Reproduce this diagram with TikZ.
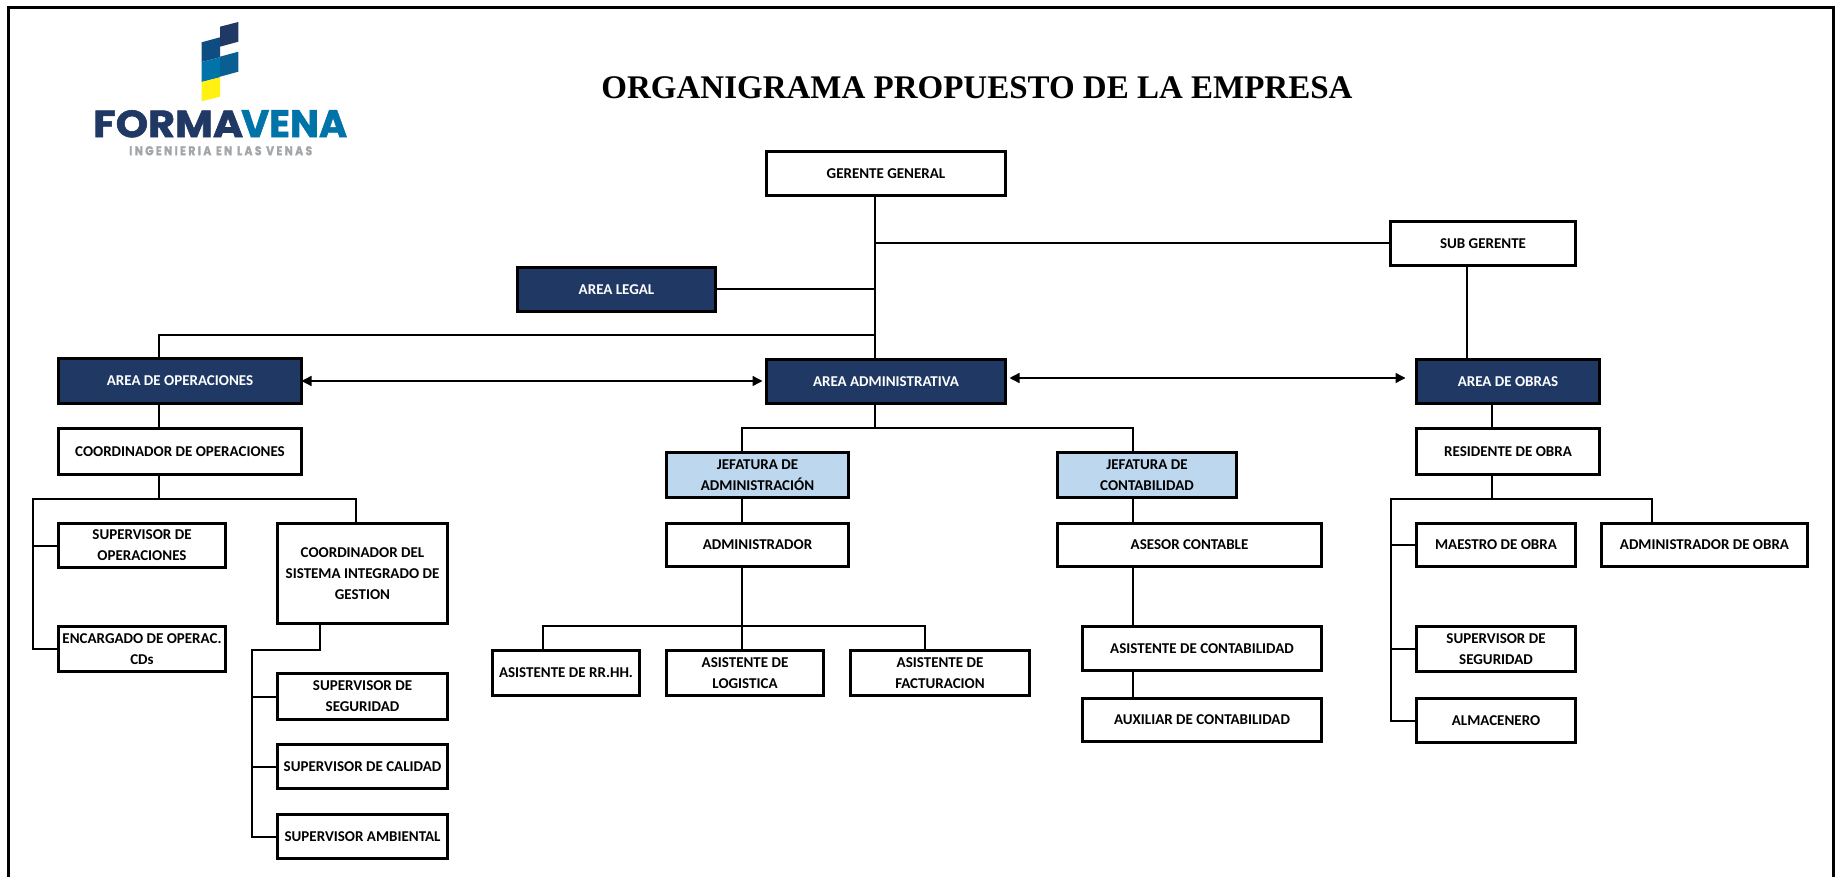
\documentclass[tikz,border=0pt]{standalone}
\usepackage{fontspec}
\usepackage{graphicx}
\setmainfont{Carlito}
\newfontfamily\titlefont{Liberation Serif}
\newfontfamily\logofont[BoldFeatures={FakeBold=1.5}]{Poppins}
\usetikzlibrary{positioning}
\usetikzlibrary{arrows.meta}
\definecolor{navyBox}{HTML}{1F3864}
\definecolor{skyBox}{HTML}{BDD7EE}
\definecolor{logoTeal}{HTML}{0073A8}
\definecolor{logoBlue}{HTML}{0F4C81}
\definecolor{logoMid}{HTML}{0A5F92}
\definecolor{logoYellow}{HTML}{FFF212}
\definecolor{logoGray}{HTML}{A3A6A9}
\tikzset{
    whitebox/.style={rectangle, draw, line width=3.6pt, outer sep=0pt, inner sep=1pt, align=center, text=black,
        font=\bfseries\fontsize{15}{21}\selectfont},
    navybox/.style={whitebox, fill=navyBox, text=white},
    skybox/.style={whitebox, fill=skyBox},
    link/.style={line width=2pt},
    twoway/.style={line width=1.4pt, {Triangle[length=10pt,width=10pt]}-{Triangle[length=10pt,width=10pt]}}
}

\begin{document}
\begin{tikzpicture}[x=1pt, y=-1pt]
    \useasboundingbox (0,0) rectangle (1842,877);
    % Page frame, open at the bottom
    \draw[line width=3pt] (8,877) -- (8,8) -- (1833,8) -- (1833,877);
    % Logo
    \fill[navyBox] (220,26.7) -- (238.3,22) -- (238.3,41.7) -- (220,46.7) -- cycle;
    \fill[logoBlue] (201.7,42.3) -- (220,37.3) -- (220,57.3) -- (201.7,62) -- cycle;
    \fill[logoTeal] (201.7,62) -- (220,57.3) -- (220,77.3) -- (201.7,82) -- cycle;
    \fill[logoMid] (220,56.7) -- (238.3,51.7) -- (238.3,71.7) -- (220,76.7) -- cycle;
    \fill[logoYellow] (201.7,82) -- (220,77.3) -- (220,96.7) -- (201.7,101.3) -- cycle;
    \node[inner sep=0pt, anchor=north west, text=navyBox] (logoForma) at (93,110)
        {\resizebox{150pt}{27pt}{\logofont\bfseries FORMA}};
    \node[inner sep=0pt, anchor=north west, text=logoTeal] (logoVena) at (241,110)
        {\resizebox{106pt}{27pt}{\logofont\bfseries VENA}};
    \node[inner sep=0pt, anchor=north west, text=logoGray] (logoSlogan) at (129,146)
        {\resizebox{183pt}{9pt}{\logofont\bfseries I N G E N I E R I A\ \ E N\ \ L A S\ \ V E N A S}};
    % Title
    \node[font=\titlefont\bfseries\fontsize{33}{40}\selectfont, inner sep=0pt] (title) at (977,88) {ORGANIGRAMA PROPUESTO DE LA EMPRESA};
    % Top of the chart
    \node[whitebox, minimum width=239pt, minimum height=44pt, anchor=north west] (gerente) at (766.5,151.5) {GERENTE GENERAL};
    \node[whitebox, minimum width=185pt, minimum height=44pt, anchor=north west] (subGerente) at (1390.5,221.5) {SUB GERENTE};
    \node[navybox, minimum width=198pt, minimum height=44pt, anchor=north west] (areaLegal) at (517.5,267.5) {AREA LEGAL};
    \node[navybox, minimum width=243pt, minimum height=45pt, anchor=north west] (areaOper) at (58.5,358.5) {AREA DE OPERACIONES};
    \node[navybox, minimum width=239pt, minimum height=44pt, anchor=north west] (areaAdmin) at (766.5,359.5) {AREA ADMINISTRATIVA};
    \node[navybox, minimum width=183pt, minimum height=44pt, anchor=north west] (areaObras) at (1416.5,359.5) {AREA DE OBRAS};
    % Operaciones
    \node[whitebox, minimum width=243pt, minimum height=46pt, below=25pt of areaOper] (coordOper) {COORDINADOR DE OPERACIONES};
    \node[whitebox, minimum width=167pt, minimum height=44pt, below=49pt of coordOper.south west, anchor=north west] (supOper) {SUPERVISOR DE\\OPERACIONES};
    \node[whitebox, minimum width=167pt, minimum height=45pt, below=59pt of supOper] (encargado) {ENCARGADO DE OPERAC.\\CDs};
    \node[whitebox, minimum width=170pt, minimum height=100pt, right=52pt of supOper.north east, anchor=north west] (coordSistema) {COORDINADOR DEL\\SISTEMA INTEGRADO DE\\GESTION};
    \node[whitebox, minimum width=170pt, minimum height=46pt, below=50pt of coordSistema] (supSeguridad) {SUPERVISOR DE\\SEGURIDAD};
    \node[whitebox, minimum width=170pt, minimum height=44pt, below=25pt of supSeguridad] (supCalidad) {SUPERVISOR DE CALIDAD};
    \node[whitebox, minimum width=170pt, minimum height=44pt, below=26pt of supCalidad] (supAmbiental) {SUPERVISOR AMBIENTAL};
    % Administracion
    \node[skybox, minimum width=182pt, minimum height=45pt, anchor=north west] (jefAdmin) at (666.5,452.5) {JEFATURA DE\\ADMINISTRACIÓN};
    \node[whitebox, minimum width=182pt, minimum height=43pt, below=26pt of jefAdmin] (administrador) {ADMINISTRADOR};
    \node[whitebox, minimum width=157pt, minimum height=45pt, below=84pt of administrador.south west, anchor=north west] (asisLogistica) {ASISTENTE DE\\LOGISTICA};
    \node[whitebox, minimum width=147pt, minimum height=45pt, left=27pt of asisLogistica] (asisRRHH) {ASISTENTE DE RR.HH.};
    \node[whitebox, minimum width=179pt, minimum height=45pt, right=27pt of asisLogistica] (asisFactura) {ASISTENTE DE\\FACTURACION};
    % Contabilidad
    \node[skybox, minimum width=179pt, minimum height=45pt, anchor=north west] (jefConta) at (1057.5,452.5) {JEFATURA DE\\CONTABILIDAD};
    \node[whitebox, minimum width=264pt, minimum height=43pt, below=26pt of jefConta.south west, anchor=north west] (asesor) {ASESOR CONTABLE};
    \node[whitebox, minimum width=239pt, minimum height=44pt, below=60pt of asesor.south east, anchor=north east] (asisConta) {ASISTENTE DE CONTABILIDAD};
    \node[whitebox, minimum width=239pt, minimum height=43pt, below=28pt of asisConta] (auxConta) {AUXILIAR DE CONTABILIDAD};
    % Obras
    \node[whitebox, minimum width=183pt, minimum height=46pt, below=25pt of areaObras] (residente) {RESIDENTE DE OBRA};
    \node[whitebox, minimum width=159pt, minimum height=43pt, below=49pt of residente.south west, anchor=north west] (maestro) {MAESTRO DE OBRA};
    \node[whitebox, minimum width=206pt, minimum height=43pt, right=26pt of maestro] (adminObra) {ADMINISTRADOR DE OBRA};
    \node[whitebox, minimum width=159pt, minimum height=45pt, below=60pt of maestro] (supSegObra) {SUPERVISOR DE\\SEGURIDAD};
    \node[whitebox, minimum width=159pt, minimum height=44pt, below=27pt of supSegObra] (almacenero) {ALMACENERO};
    % Points where the lines turn
    \coordinate (topBus) at (875,335);
    \coordinate (operBus) at (159,499);
    \coordinate (operBusL) at (33,499);
    \coordinate (sistBus) at (252,650);
    \coordinate (adminBus) at (875,428);
    \coordinate (logisBus) at (742,626);
    \coordinate (obraBus) at (1492,499);
    \coordinate (obraBusL) at (1391,499);
    % Lines: top of the chart
    \draw[link] ([xshift=-11pt]gerente.south) -- ([xshift=-11pt]areaAdmin.north);
    \draw[link] (subGerente.west) -- (subGerente.west -| topBus);
    \draw[link] (areaLegal.east) -- (areaLegal.east -| topBus);
    \draw[link] ([xshift=-21pt]areaOper.north) |- (topBus);
    \draw[link] ([xshift=-16pt]subGerente.south) -- ([xshift=-41pt]areaObras.north);
    % Arrows
    \draw[twoway] (areaOper.east) -- ([xshift=-4pt]areaAdmin.west |- areaOper.east);
    \draw[twoway] ([xshift=4pt,yshift=3.5pt]areaAdmin.east) -- ([xshift=-11pt,yshift=3.5pt]areaObras.west);
    % Lines: operaciones
    \draw[link] ([xshift=-21pt]areaOper.south) -- ([xshift=-21pt]coordOper.north);
    \draw[link] ([xshift=-21pt]coordOper.south) -- (operBus);
    \draw[link] (encargado.west) -| (operBusL) -| ([xshift=-6.5pt]coordSistema.north);
    \draw[link] (supOper.west) -- (supOper.west -| operBusL);
    \draw[link] ([xshift=-42.5pt]coordSistema.south) |- (sistBus) |- (supAmbiental.west);
    \draw[link] (supSeguridad.west) -- (supSeguridad.west -| sistBus);
    \draw[link] (supCalidad.west) -- (supCalidad.west -| sistBus);
    % Lines: administracion
    \draw[link] ([xshift=-11pt]areaAdmin.south) -- (adminBus);
    \draw[link] ([xshift=-15.5pt]jefAdmin.north) |- (adminBus);
    \draw[link] ([xshift=-14pt]jefConta.north) |- (adminBus);
    \draw[link] ([xshift=-15.5pt]jefAdmin.south) -- ([xshift=-15.5pt]administrador.north);
    \draw[link] ([xshift=-15.5pt]administrador.south) -- ([xshift=-3pt]asisLogistica.north);
    \draw[link] ([xshift=-23pt]asisRRHH.north) |- (logisBus);
    \draw[link] ([xshift=-15pt]asisFactura.north) |- (logisBus);
    % Lines: contabilidad
    \draw[link] ([xshift=-14pt]jefConta.south) -- ([xshift=-14pt]asesor.north -| jefConta.south);
    \draw[link] ([xshift=-14pt]asesor.south -| jefConta.south) -- ([xshift=-69pt]asisConta.north);
    \draw[link] ([xshift=-69pt]asisConta.south) -- ([xshift=-69pt]auxConta.north);
    % Lines: obras
    \draw[link] ([xshift=-16pt]areaObras.south) -- ([xshift=-16pt]residente.north);
    \draw[link] ([xshift=-16pt]residente.south) -- (obraBus);
    \draw[link] (almacenero.west) -| (obraBusL) -| ([xshift=-52.5pt]adminObra.north);
    \draw[link] (maestro.west) -- (maestro.west -| obraBusL);
    \draw[link] (supSegObra.west) -- (supSegObra.west -| obraBusL);
\end{tikzpicture}
\end{document}
